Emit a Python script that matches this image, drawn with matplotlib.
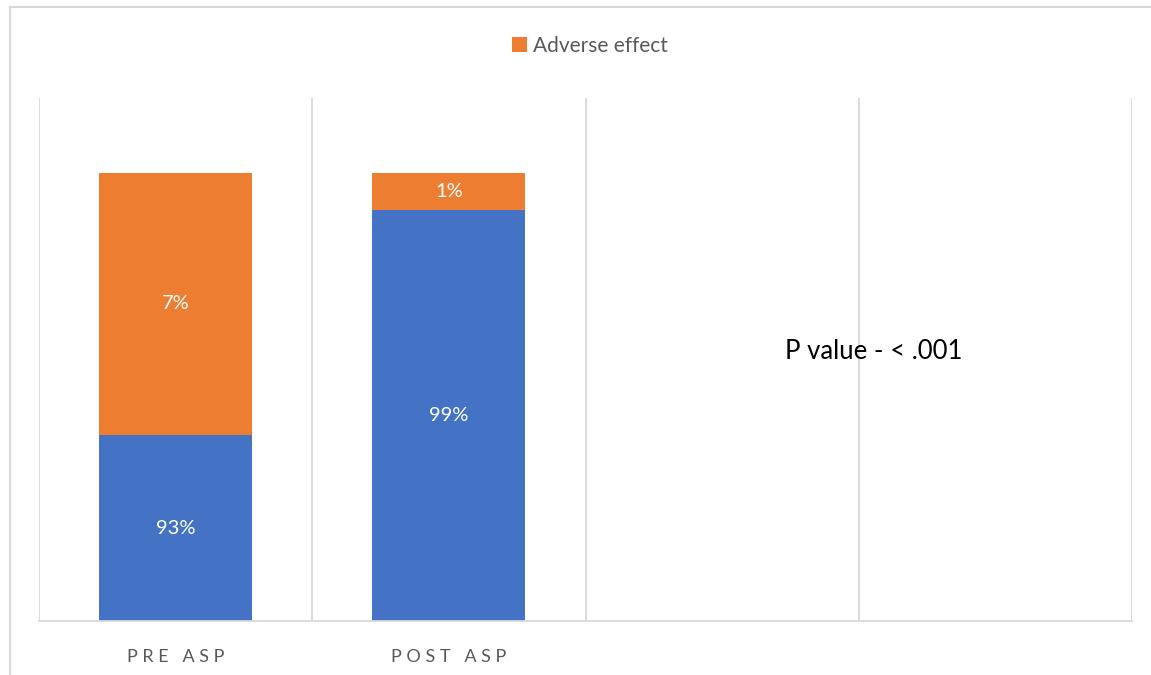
import matplotlib.pyplot as plt
from matplotlib.lines import Line2D

plt.rcParams['font.family'] = ['Lato', 'DejaVu Sans']

# categories on the x axis (last two slots are left empty)
categories = ["PRE ASP", "POST ASP", "", ""]
# stacked segment heights, in axis units
no_effect = [41.5, 91.7]
adverse_effect = [58.5, 8.3]
# data labels printed on the segments
no_effect_labels = ["93%", "99%"]
adverse_labels = ["7%", "1%"]
y_max = 116.7

BLUE = "#4472C4"
ORANGE = "#ED7D31"
GRID = "#D9D9D9"
TEXT = "#595959"

fig = plt.figure(figsize=(11.51, 6.75), dpi=100)
ax = fig.add_axes([39 / 1151, 1 - 621 / 675, (1132 - 39) / 1151, (621 - 98) / 675])

xs = list(range(len(no_effect)))
width = 0.56
ax.bar(xs, no_effect, width=width, color=BLUE, zorder=2)
ax.bar(xs, adverse_effect, width=width, bottom=no_effect, color=ORANGE,
       zorder=2, label="Adverse effect")

for x, lo, hi, lab_lo, lab_hi in zip(xs, no_effect, adverse_effect,
                                     no_effect_labels, adverse_labels):
    ax.text(x, lo / 2, lab_lo, ha="center", va="center", color="white", fontsize=14.5)
    ax.text(x, lo + hi / 2, lab_hi, ha="center", va="center", color="white", fontsize=14.5)

# category separators
for b in [i - 0.5 for i in range(len(categories) + 1)]:
    ax.axvline(b, color=GRID, lw=1.3, zorder=1)

ax.set_xlim(-0.5, len(categories) - 0.5)
ax.set_ylim(0, y_max)
for side in ["left", "right", "top"]:
    ax.spines[side].set_visible(False)
ax.spines["bottom"].set_color(GRID)
ax.spines["bottom"].set_linewidth(1.3)
ax.set_yticks([])
ax.set_xticks(range(len(categories)))
# letter-spaced category names
ax.set_xticklabels([" ".join(c) for c in categories], color=TEXT, fontsize=13)
ax.tick_params(axis="x", length=0, pad=20)

ax.legend(loc="center", bbox_to_anchor=(590 / 1151, 1 - 46 / 675),
          bbox_transform=fig.transFigure, frameon=False, fontsize=15,
          labelcolor=TEXT, handlelength=0.7, handleheight=0.7, handletextpad=0.3)

fig.text(874 / 1151, 1 - 352 / 675, "P value - < .001", ha="center", va="center",
         fontsize=18.5, color="black")

# chart frame
fig.add_artist(Line2D([9.5 / 1151, 1], [1 - 7 / 675] * 2, color=GRID, lw=1.5))
fig.add_artist(Line2D([9.5 / 1151] * 2, [0, 1 - 7 / 675], color=GRID, lw=1.5))

fig.savefig("out.png", dpi=100, facecolor="white")
